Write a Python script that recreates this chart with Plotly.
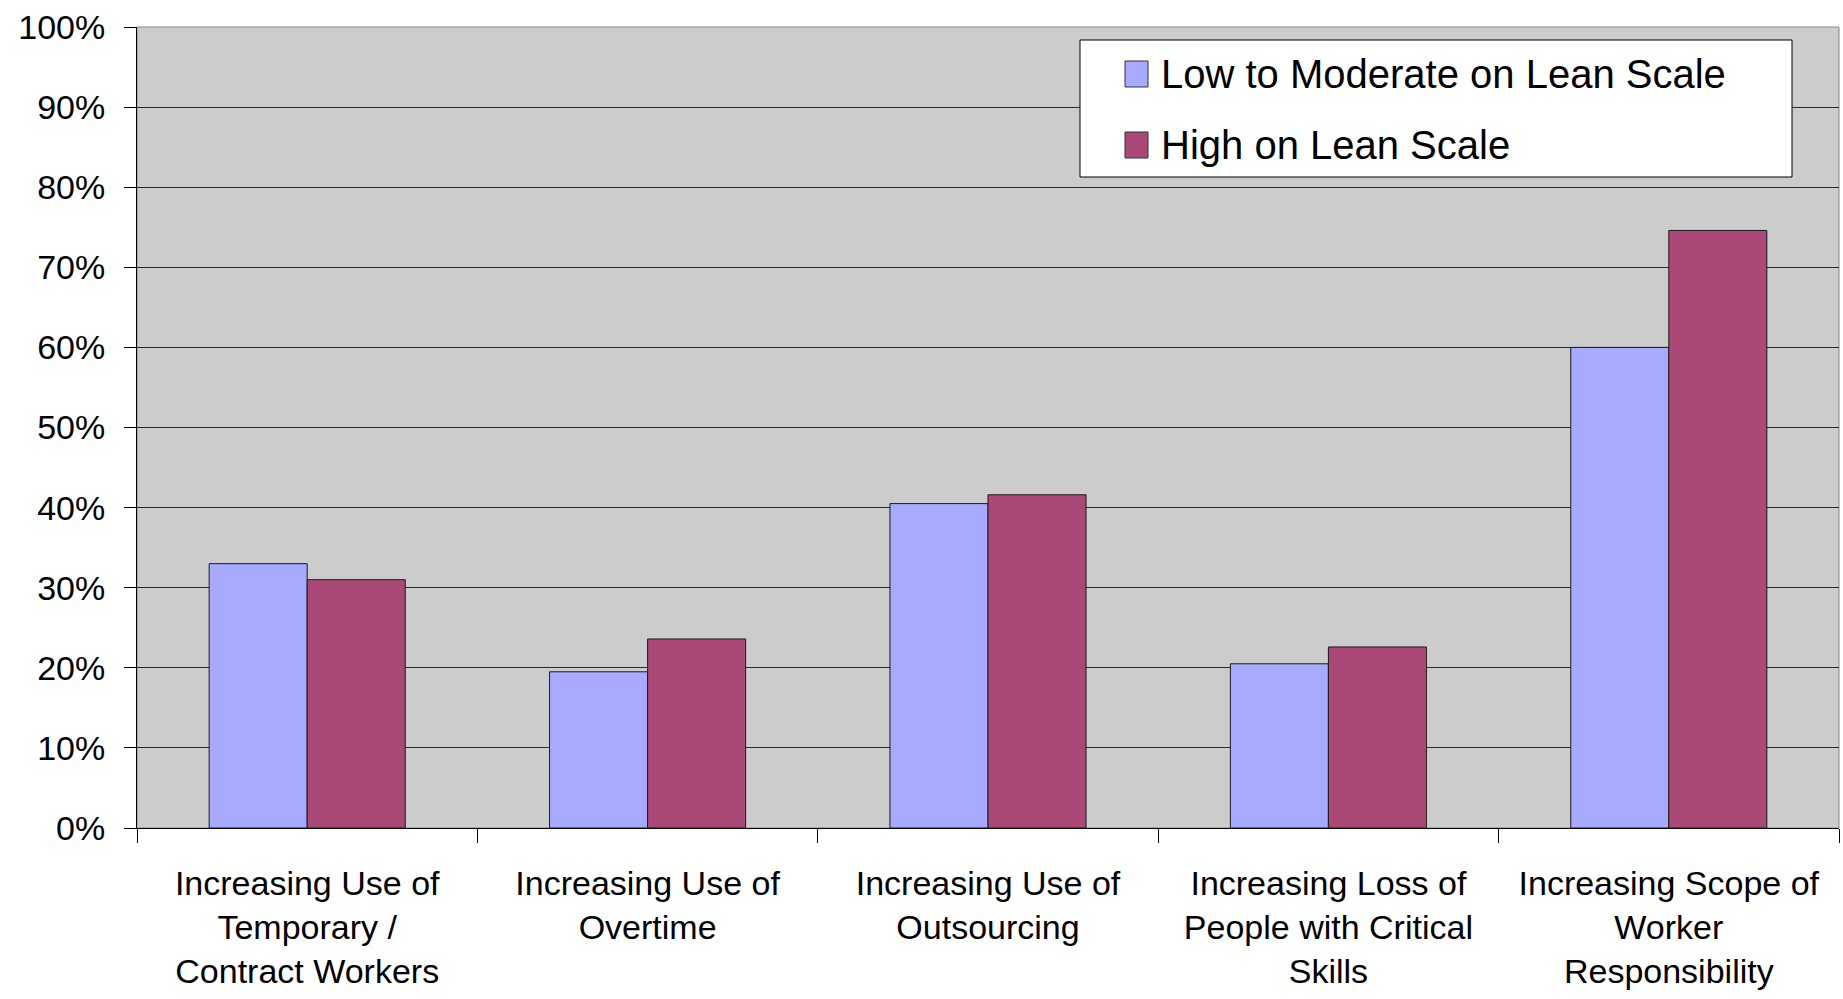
import plotly.graph_objects as go

# Categories and survey results (percent of respondents)
categories = [
    "Increasing Use of<br>Temporary /<br>Contract Workers",
    "Increasing Use of<br>Overtime",
    "Increasing Use of<br>Outsourcing",
    "Increasing Loss of<br>People with Critical<br>Skills",
    "Increasing Scope of<br>Worker<br>Responsibility",
]
series_names = ["Low to Moderate on Lean Scale", "High on Lean Scale"]
low_moderate = [33.0, 19.5, 40.5, 20.5, 60.0]
high_lean = [31.0, 23.6, 41.6, 22.6, 74.6]
y_ticks = list(range(0, 101, 10))
y_tick_text = [f"{v}%" for v in y_ticks]

BLUE = "#A8AAFF"
PLUM = "#AA4977"
FONT = "Liberation Sans, Arial, sans-serif"
series_colors = [BLUE, PLUM]

W, H = 1843, 999
ML, MR, MT, MB = 137, 4, 27, 171
PW, PH = W - ML - MR, H - MT - MB


def px_x(x):
    """Convert a horizontal pixel position to paper coordinates."""
    return (x - ML) / PW


def px_y(y):
    """Convert a vertical pixel position (from top) to paper coordinates."""
    return (H - MB - y) / PH


fig = go.Figure()
for name, vals, color in zip(series_names, [low_moderate, high_lean], series_colors):
    fig.add_trace(go.Bar(
        x=categories, y=vals, name=name, showlegend=False,
        marker=dict(color=color, line=dict(color="#1a1a1a", width=1)),
    ))

# Boxed legend in the upper right of the plot area
shapes = [
    dict(type="rect", xref="paper", yref="paper", x0=0, x1=1, y0=0, y1=1,
         line=dict(color="#888888", width=1), fillcolor="rgba(0,0,0,0)", layer="below"),
    dict(type="rect", xref="paper", yref="paper",
         x0=px_x(1080), x1=px_x(1792), y0=px_y(177), y1=px_y(40),
         line=dict(color="black", width=1), fillcolor="white", layer="above"),
]
annotations = []
for i, (name, color) in enumerate(zip(series_names, series_colors)):
    top = 61 + 71 * i
    shapes.append(dict(
        type="rect", xref="paper", yref="paper",
        x0=px_x(1125), x1=px_x(1148), y0=px_y(top + 26), y1=px_y(top),
        line=dict(color="#333333", width=1), fillcolor=color, layer="above",
    ))
    annotations.append(dict(
        text=name, xref="paper", yref="paper",
        x=px_x(1159), y=px_y(top + 13), xanchor="left", yanchor="middle",
        showarrow=False, font=dict(family=FONT, size=40, color="black"),
    ))

fig.update_layout(
    width=W, height=H,
    margin=dict(l=ML, r=MR, t=MT, b=MB),
    paper_bgcolor="white",
    plot_bgcolor="#CCCCCC",
    barmode="group",
    bargap=0.424,
    bargroupgap=0,
    font=dict(family=FONT, size=34, color="black"),
    showlegend=False,
    xaxis=dict(
        showline=True, linecolor="black", linewidth=1,
        ticks="outside", tickson="boundaries", ticklen=14, tickcolor="black",
        tickfont=dict(family=FONT, size=34),
        ticklabelstandoff=25,
        showgrid=False,
    ),
    yaxis=dict(
        range=[0, 100], tickvals=y_ticks, ticktext=y_tick_text,
        showline=True, linecolor="black", linewidth=1,
        ticks="outside", ticklen=12, tickcolor="black",
        tickfont=dict(family=FONT, size=34),
        showgrid=True, gridcolor="#2a2a2a", gridwidth=1,
        ticklabelstandoff=12,
        zeroline=False,
    ),
    shapes=shapes,
    annotations=annotations,
)

fig.write_html("out.html")
